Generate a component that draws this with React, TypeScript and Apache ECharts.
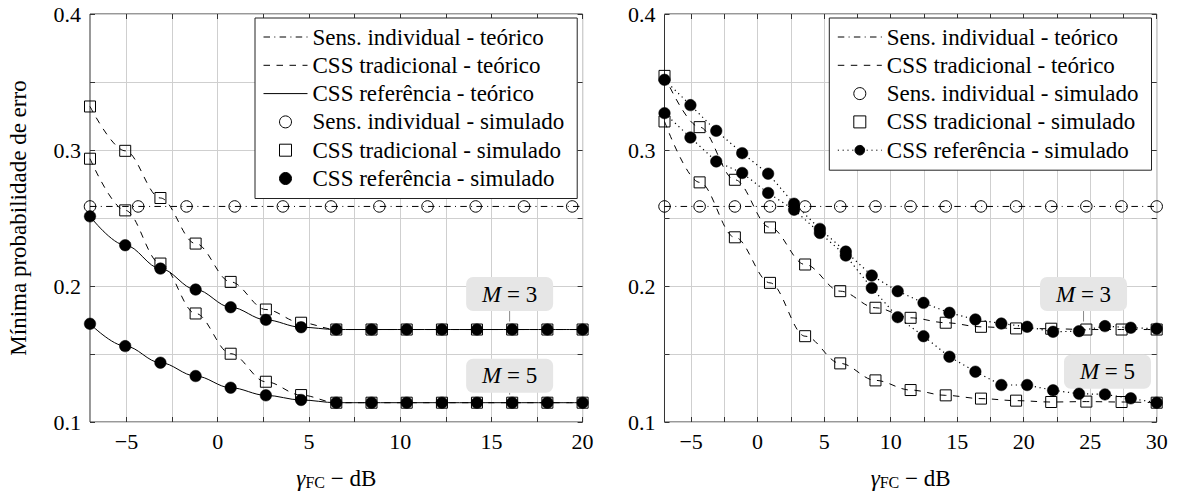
import React, { useEffect, useRef } from "react";
import * as echarts from "echarts";

// ---- Left panel: SNR samples (dB) and error probabilities ----
const xLeft = [-7, -5.07, -3.14, -1.21, 0.71, 2.64, 4.57, 6.5, 8.43, 10.36, 12.29, 14.21, 16.14, 18.07, 20];
const tradM3Left = [0.332, 0.2994, 0.2647, 0.2312, 0.203, 0.1827, 0.173, 0.168, 0.168, 0.168, 0.168, 0.168, 0.168, 0.168, 0.168];
const tradM5Left = [0.2936, 0.2556, 0.2165, 0.1798, 0.1502, 0.1296, 0.1198, 0.1142, 0.1142, 0.1142, 0.1142, 0.1142, 0.1142, 0.1142, 0.1142];
const refM3Left = [0.2512, 0.23, 0.2128, 0.1974, 0.1844, 0.1751, 0.1697, 0.168, 0.168, 0.168, 0.168, 0.168, 0.168, 0.168, 0.168];
const refM5Left = [0.1722, 0.1558, 0.1436, 0.1338, 0.1252, 0.1196, 0.1162, 0.1142, 0.1142, 0.1142, 0.1142, 0.1142, 0.1142, 0.1142, 0.1142];

const xSensLeft = [-7, -4.36, -1.71, 0.93, 3.57, 6.21, 8.86, 11.5, 14.14, 16.79, 19.43];
const sensLeft = [0.2585, 0.2585, 0.2585, 0.2585, 0.2585, 0.2585, 0.2585, 0.2585, 0.2585, 0.2585, 0.2585];

// ---- Right panel ----
const xRight = [-7, -4.36, -1.71, 0.93, 3.57, 6.21, 8.86, 11.5, 14.14, 16.79, 19.43, 22.07, 24.71, 27.36, 30];
const sensRight = [0.2585, 0.2585, 0.2585, 0.2585, 0.2585, 0.2585, 0.2585, 0.2585, 0.2585, 0.2585, 0.2585, 0.2585, 0.2585, 0.2585, 0.2585];
const tradM3Right = [0.3545, 0.3168, 0.2781, 0.2431, 0.2158, 0.1962, 0.184, 0.1766, 0.173, 0.17, 0.1688, 0.1686, 0.168, 0.168, 0.168];
const tradM5Right = [0.321, 0.2762, 0.2358, 0.2023, 0.1631, 0.1431, 0.1306, 0.1235, 0.1196, 0.1172, 0.1157, 0.1147, 0.115, 0.1147, 0.1142];

const xRefRight = [-7, -5.05, -3.11, -1.16, 0.79, 2.74, 4.68, 6.63, 8.58, 10.53, 12.47, 14.42, 16.37, 18.32, 20.26, 22.21, 24.16, 26.11, 28.05, 30];
const refM3Right = [0.3516, 0.333, 0.3141, 0.2977, 0.2826, 0.2605, 0.242, 0.2253, 0.2077, 0.1962, 0.1876, 0.1803, 0.1754, 0.1724, 0.17, 0.1663, 0.1668, 0.1705, 0.1693, 0.1686];
const refM5Right = [0.3271, 0.3092, 0.2916, 0.2831, 0.2684, 0.2561, 0.239, 0.2224, 0.1986, 0.1771, 0.1631, 0.148, 0.137, 0.1272, 0.1272, 0.1233, 0.1208, 0.1203, 0.1174, 0.1142];

// Individual sensing, theoretical level
const sensTheory = 0.2585;

// ---- Axis ticks ----
const xTicksLeft = [-5, -2.5, 0, 2.5, 5, 7.5, 10, 12.5, 15, 17.5, 20];
const xLabelsLeft = [-5, 0, 5, 10, 15, 20];
const xTicksRight = [-5, -2.5, 0, 2.5, 5, 7.5, 10, 12.5, 15, 17.5, 20, 22.5, 25, 27.5, 30];
const xLabelsRight = [-5, 0, 5, 10, 15, 20, 25, 30];
const yTicks = [0.1, 0.15, 0.2, 0.25, 0.3, 0.35, 0.4];
const yLabels = [0.1, 0.2, 0.3, 0.4];

const NAMES = {
  sensT: "Sens. individual - teórico",
  tradT: "CSS tradicional - teórico",
  refT: "CSS referência - teórico",
  sensS: "Sens. individual - simulado",
  tradS: "CSS tradicional - simulado",
  refS: "CSS referência - simulado",
};

const SERIF = '"Liberation Serif", "Times New Roman", serif';
const FRAME = "#333";
const GRID = "#cfcfcf";
const INK = "#000";
const DASHED = [6.5, 6.5];
const DASHDOT = [6.5, 4.3, 1, 4.3];
const DOTTED = [1.2, 3.6];
const SQUARE_ICON = "path://M0,0L10,0L10,10L0,10Z";

const pairs = (xs: number[], ys: number[]) => xs.map((x, i) => [x, ys[i]]);
const fmtX = (v: number) => (v < 0 ? "\u2212" + Math.abs(v) : String(v));

function xAxes(gridIndex: number, max: number, ticks: number[], labels: number[]) {
  return [
    {
      type: "value",
      gridIndex,
      min: -7,
      max,
      position: "bottom",
      axisLine: { show: false, onZero: false },
      axisTick: { show: true, inside: true, length: 5, customValues: ticks, lineStyle: { color: FRAME } },
      axisLabel: {
        customValues: labels,
        margin: 8,
        formatter: fmtX,
        fontFamily: SERIF,
        fontSize: 22,
        color: INK,
      },
      splitLine: { show: true, lineStyle: { color: GRID, width: 1 } },
      name: "{g|γ}{s|FC}{n| \u2212 dB}",
      nameLocation: "middle",
      nameGap: 42,
      nameTextStyle: {
        fontFamily: SERIF,
        fontSize: 23,
        color: INK,
        rich: {
          g: { fontFamily: SERIF, fontSize: 23, fontStyle: "italic", color: INK, lineHeight: 26, verticalAlign: "bottom" },
          s: { fontFamily: SERIF, fontSize: 16, color: INK, lineHeight: 17, verticalAlign: "bottom" },
          n: { fontFamily: SERIF, fontSize: 23, color: INK, lineHeight: 26, verticalAlign: "bottom" },
        },
      },
    },
    {
      type: "value",
      gridIndex,
      min: -7,
      max,
      position: "top",
      axisLine: { show: false, onZero: false },
      axisTick: { show: true, inside: true, length: 5, customValues: ticks, lineStyle: { color: FRAME } },
      axisLabel: { show: false },
      splitLine: { show: false },
    },
  ];
}

function yAxes(gridIndex: number, withName: boolean) {
  return [
    {
      type: "value",
      gridIndex,
      min: 0.1,
      max: 0.4,
      position: "left",
      axisLine: { show: false, onZero: false },
      axisTick: { show: true, inside: true, length: 5, customValues: yTicks, lineStyle: { color: FRAME } },
      axisLabel: {
        customValues: yLabels,
        margin: 9,
        formatter: (v: number) => v.toFixed(1),
        fontFamily: SERIF,
        fontSize: 22,
        color: INK,
      },
      splitLine: { show: true, lineStyle: { color: GRID, width: 1 } },
      name: withName ? "Mínima probabilidade de erro" : "",
      nameLocation: "middle",
      nameGap: 60,
      nameTextStyle: { fontFamily: SERIF, fontSize: 23, color: INK },
    },
    {
      type: "value",
      gridIndex,
      min: 0.1,
      max: 0.4,
      position: "right",
      axisLine: { show: false, onZero: false },
      axisTick: { show: true, inside: true, length: 5, customValues: yTicks, lineStyle: { color: FRAME } },
      axisLabel: { show: false },
      splitLine: { show: false },
    },
  ];
}

function theoryLine(name: string, xi: number, yi: number, data: number[][], dash: number[] | "solid", smooth: boolean) {
  return {
    type: "line",
    name,
    xAxisIndex: xi,
    yAxisIndex: yi,
    data,
    symbol: "none",
    smooth: smooth ? 0.35 : false,
    smoothMonotone: "x",
    silent: true,
    lineStyle: { color: INK, width: 1, type: dash },
    itemStyle: { color: INK },
    z: 2,
  };
}

function marks(name: string, xi: number, yi: number, data: number[][], symbol: string, filled: boolean) {
  return {
    type: "scatter",
    name,
    xAxisIndex: xi,
    yAxisIndex: yi,
    data,
    symbol,
    symbolSize: symbol === "rect" ? 11 : 11.5,
    silent: true,
    itemStyle: filled
      ? { color: INK, borderColor: INK, borderWidth: 0.5, opacity: 1 }
      : { color: "transparent", borderColor: INK, borderWidth: 1, opacity: 1 },
    z: 3,
  };
}

// Right-panel series carry a trailing space so both legends resolve their own styles.
const R = (n: string) => n + " ";

const hiddenMarker = { color: "transparent", borderColor: "transparent", borderWidth: 0 };

function legendBase(left: number) {
  return {
    left,
    top: 18,
    orient: "vertical",
    align: "left",
    padding: [7, 13, 8, 8],
    itemWidth: 44,
    itemHeight: 12,
    itemGap: 4.3,
    backgroundColor: "#fff",
    borderColor: "#222",
    borderWidth: 1,
    borderRadius: 0,
    selectedMode: false,
    symbolKeepAspect: true,
    textStyle: { fontFamily: SERIF, fontSize: 23, lineHeight: 24, color: INK },
    itemStyle: { borderWidth: 1, opacity: 1 },
    lineStyle: { width: 1 },
    z: 10,
  };
}

function buildOption() {
  return {
    animation: false,
    backgroundColor: "#fff",
    grid: [
      { left: 90, top: 14, width: 492.6, height: 408.7, show: true, borderColor: FRAME, borderWidth: 1, backgroundColor: "transparent" },
      { left: 664.5, top: 14, width: 492.2, height: 408.7, show: true, borderColor: FRAME, borderWidth: 1, backgroundColor: "transparent" },
    ],
    xAxis: [...xAxes(0, 20, xTicksLeft, xLabelsLeft), ...xAxes(1, 30, xTicksRight, xLabelsRight)],
    yAxis: [...yAxes(0, true), ...yAxes(1, false)],
    legend: [
      {
        ...legendBase(255),
        data: [
          { name: NAMES.sensT, itemStyle: hiddenMarker },
          { name: NAMES.tradT, itemStyle: hiddenMarker },
          { name: NAMES.refT, itemStyle: hiddenMarker },
          { name: NAMES.sensS },
          { name: NAMES.tradS, icon: SQUARE_ICON },
          { name: NAMES.refS },
        ],
      },
      {
        ...legendBase(829.3),
        formatter: (n: string) => n.trim(),
        data: [
          { name: R(NAMES.sensT), itemStyle: hiddenMarker },
          { name: R(NAMES.tradT), itemStyle: hiddenMarker },
          { name: R(NAMES.sensS) },
          { name: R(NAMES.tradS), icon: SQUARE_ICON },
          { name: R(NAMES.refS) },
        ],
      },
    ],
    series: [
      // left panel
      theoryLine(NAMES.sensT, 0, 0, [[-7, sensTheory], [20, sensTheory]], DASHDOT, false),
      theoryLine(NAMES.tradT, 0, 0, pairs(xLeft, tradM3Left), DASHED, true),
      theoryLine(NAMES.tradT, 0, 0, pairs(xLeft, tradM5Left), DASHED, true),
      theoryLine(NAMES.refT, 0, 0, pairs(xLeft, refM3Left), "solid", true),
      theoryLine(NAMES.refT, 0, 0, pairs(xLeft, refM5Left), "solid", true),
      marks(NAMES.sensS, 0, 0, pairs(xSensLeft, sensLeft), "circle", false),
      marks(NAMES.tradS, 0, 0, pairs(xLeft, tradM3Left), "rect", false),
      marks(NAMES.tradS, 0, 0, pairs(xLeft, tradM5Left), "rect", false),
      marks(NAMES.refS, 0, 0, pairs(xLeft, refM3Left), "circle", true),
      marks(NAMES.refS, 0, 0, pairs(xLeft, refM5Left), "circle", true),
      // right panel
      theoryLine(R(NAMES.sensT), 2, 2, [[-7, sensTheory], [30, sensTheory]], DASHDOT, false),
      theoryLine(R(NAMES.tradT), 2, 2, pairs(xRight, tradM3Right), DASHED, true),
      theoryLine(R(NAMES.tradT), 2, 2, pairs(xRight, tradM5Right), DASHED, true),
      marks(R(NAMES.sensS), 2, 2, pairs(xRight, sensRight), "circle", false),
      marks(R(NAMES.tradS), 2, 2, pairs(xRight, tradM3Right), "rect", false),
      marks(R(NAMES.tradS), 2, 2, pairs(xRight, tradM5Right), "rect", false),
      ...[refM3Right, refM5Right].map((ys) => ({
        type: "line",
        name: R(NAMES.refS),
        xAxisIndex: 2,
        yAxisIndex: 2,
        data: pairs(xRefRight, ys),
        symbol: "circle",
        symbolSize: 11.5,
        showSymbol: true,
        silent: true,
        lineStyle: { color: INK, width: 1.2, type: DOTTED },
        itemStyle: { color: INK, borderColor: INK, borderWidth: 0.5, opacity: 1 },
        z: 4,
      })),
    ],
  };
}

// Pinned "M = ..." tags: anchor in data space, vertical offset of the tag centre in px
const pins = [
  { xAxisIndex: 0, yAxisIndex: 0, at: [16, 0.168], dy: -35.5, label: "3" },
  { xAxisIndex: 0, yAxisIndex: 0, at: [16, 0.1142], dy: -27, label: "5" },
  { xAxisIndex: 2, yAxisIndex: 2, at: [24.5, 0.168], dy: -35.5, label: "3" },
  { xAxisIndex: 2, yAxisIndex: 2, at: [26.3, 0.1142], dy: -31, label: "5" },
];

function buildPins(chart: echarts.ECharts) {
  const W = 87;
  const H = 34;
  return pins.map((p, i) => {
    const [px, py] = chart.convertToPixel({ xAxisIndex: p.xAxisIndex, yAxisIndex: p.yAxisIndex }, p.at) as number[];
    const cx = px;
    const cy = py + p.dy;
    return {
      type: "group",
      id: "pin" + i,
      z: 20,
      children: [
        {
          type: "line",
          shape: { x1: px, y1: cy + H / 2, x2: px, y2: py - 8 },
          style: { stroke: "#8a8a8a", lineWidth: 1 },
        },
        {
          type: "rect",
          shape: { x: cx - W / 2, y: cy - H / 2, width: W, height: H, r: 7 },
          style: { fill: "#e6e6e6" },
        },
        {
          type: "text",
          x: cx,
          y: cy,
          style: {
            text: "{i|M} = " + p.label,
            align: "center",
            verticalAlign: "middle",
            fontFamily: SERIF,
            fontSize: 23,
            fill: INK,
            rich: {
              i: { fontFamily: SERIF, fontSize: 23, fontStyle: "italic", fill: INK },
            },
          },
        },
      ],
    };
  });
}

export default function App() {
  const ref = useRef<HTMLDivElement>(null);
  useEffect(() => {
    if (!ref.current) return;
    const chart = echarts.init(ref.current, null, { renderer: "svg" });
    chart.setOption(buildOption() as any);
    chart.setOption({ graphic: buildPins(chart) } as any);
    return () => chart.dispose();
  }, []);
  return (
    <div
      ref={ref}
      style={{ position: "fixed", left: 0, top: 0, width: 1181, height: 495, background: "#fff" }}
    />
  );
}
